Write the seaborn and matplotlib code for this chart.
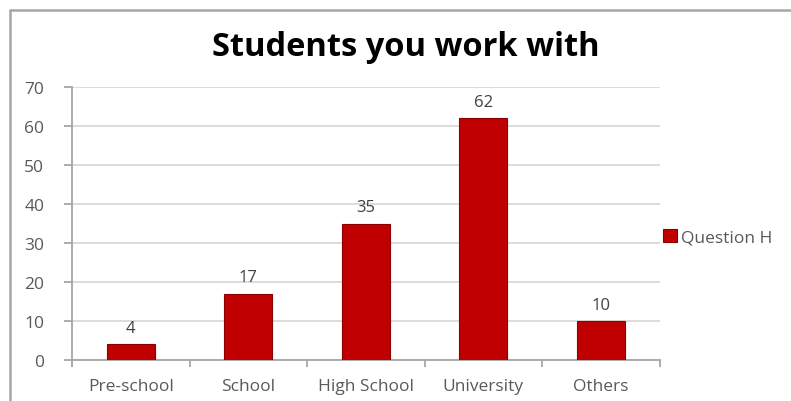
import numpy as np
import pandas as pd
import matplotlib.pyplot as plt
import seaborn as sns
from matplotlib.lines import Line2D
from matplotlib.patches import Patch

categories = ['Pre-school', 'School', 'High School', 'University', 'Others']
values = [4, 17, 35, 62, 10]
series_name = 'Question H'
y_ticks = [0, 10, 20, 30, 40, 50, 60, 70]

df = pd.DataFrame({'Kategoria': categories, 'Liczba': values})

sns.set_theme(style='white')
plt.rcParams['font.family'] = ['Open Sans', 'DejaVu Sans']

bar_color = '#C00000'
grid_color = '#d9d9d9'
axis_color = '#a6a6a6'
text_color = '#595959'

fig = plt.figure(figsize=(7.91, 4.02), dpi=100)
ax = fig.add_axes([0.091, 0.102, 0.743, 0.679])

sns.barplot(data=df, x='Kategoria', y='Liczba', color=bar_color, width=0.41,
            edgecolor='#8b0000', linewidth=0.8, saturation=1, ax=ax, zorder=3)

ax.set_ylim(0, 70)
ax.set_xlim(-0.5, len(categories) - 0.5)
ax.set_yticks(y_ticks)
ax.yaxis.grid(True, color=grid_color, linewidth=1.3, zorder=0)
ax.set_axisbelow(True)
ax.set_xlabel('')
ax.set_ylabel('')

for side in ['top', 'right']:
    ax.spines[side].set_visible(False)
for side in ['left', 'bottom']:
    ax.spines[side].set_color(axis_color)
    ax.spines[side].set_linewidth(1.3)

# ticks y na zewnatrz, ticks x na granicach kategorii
ax.tick_params(axis='y', which='major', direction='out', length=6, width=1.3,
               color=axis_color, labelsize=12.5, labelcolor=text_color, pad=14, left=True)
ax.set_xticks(range(len(categories)))
ax.set_xticklabels(categories)
ax.tick_params(axis='x', which='major', length=0, labelsize=12.5, labelcolor=text_color, pad=13)
ax.set_xticks(np.arange(-0.5, len(categories)), minor=True)
ax.tick_params(axis='x', which='minor', direction='out', length=5, width=1.3,
               color=axis_color, bottom=True)

for cont in ax.containers:
    ax.bar_label(cont, labels=[str(v) for v in values], padding=6,
                 fontsize=12, color='#404040')

fig.text(406 / 791, 1 - 47 / 402, 'Students you work with', fontsize=23.5,
         fontweight='bold', color='black', ha='center', va='center')

handle = Patch(facecolor=bar_color, edgecolor='#8b0000', linewidth=0.8)
ax.legend([handle], [series_name], loc='center left', bbox_to_anchor=(1.0, 0.45),
          frameon=False, fontsize=12.5, handlelength=0.8, handleheight=0.8,
          handletextpad=0.25, borderaxespad=0.0, borderpad=0.2,
          labelcolor=text_color)

# ramka wykresu (lewa i gorna krawedz)
fig.add_artist(Line2D([10 / 791, 10 / 791], [0, 1 - 11 / 402],
                      transform=fig.transFigure, color=axis_color, linewidth=1.8))
fig.add_artist(Line2D([10 / 791, 1], [1 - 11 / 402, 1 - 11 / 402],
                      transform=fig.transFigure, color=axis_color, linewidth=1.8))

fig.savefig('out.png', dpi=100)
